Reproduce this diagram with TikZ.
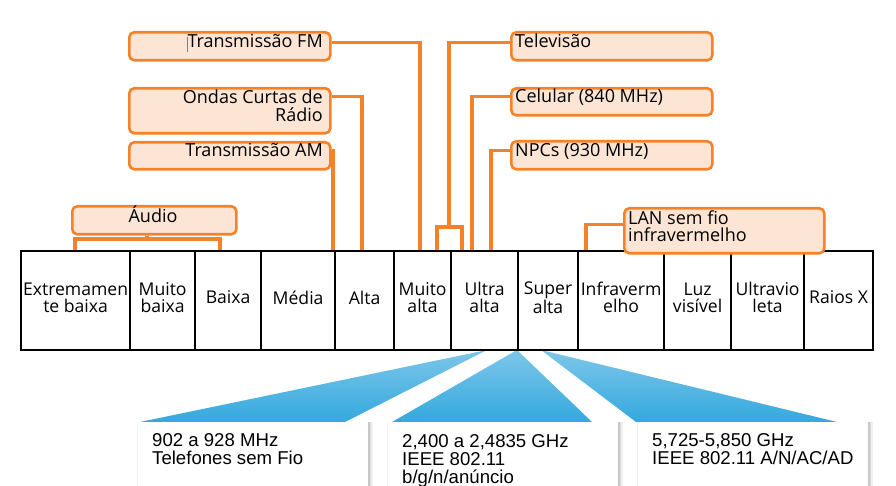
\documentclass[tikz,border=0pt]{standalone}
\usepackage{fontspec}
\setmainfont{Open Sans}
\newfontfamily\bfnt{Liberation Sans}
\definecolor{org}{RGB}{245,130,40}
\definecolor{peach}{RGB}{252,229,212}
\definecolor{fantop}{RGB}{125,198,233}
\definecolor{fanbot}{RGB}{52,169,222}
\tikzset{
  obox/.style={draw=org, fill=peach, line width=2.6pt, rounded corners=5pt, inner sep=0pt, anchor=north west},
  oline/.style={draw=org, line width=3.4pt},
  cell/.style={draw=black, line width=2.2pt, inner sep=0pt, minimum height=99pt, anchor=north west},
  lbl/.style={inner sep=0pt, font=\fontsize{18}{17.5}\selectfont},
  cellt/.style={inner sep=0pt, align=center, font=\fontsize{17.6}{17.5}\selectfont},
  btxt/.style={inner sep=0pt, align=left, anchor=west, font=\bfnt\fontsize{18.6}{18}\selectfont},
  wbox/.style={fill=white, inner sep=0pt, anchor=north west, minimum width=230pt, minimum height=90pt,
    preaction={fill=black, opacity=.05, transform canvas={xshift=-1pt}},
    preaction={fill=black, opacity=.09, transform canvas={xshift=1.5pt}},
    preaction={fill=black, opacity=.08, transform canvas={xshift=3pt}},
    preaction={fill=black, opacity=.06, transform canvas={xshift=4.5pt}}},
  fan/.style={top color=fantop, bottom color=fanbot}
}
\newcommand\bandcell[4]{%
  \node[cell, minimum width=#3pt] (#1) at (#2,250) {};
  \node[cellt] (#1t) at ([yshift=3pt]#1.center) {#4};}
\begin{document}
\begin{tikzpicture}[x=1pt,y=-1pt]
\useasboundingbox (0,0) rectangle (896,486);
\clip (0,0) rectangle (896,486);
\fill[white] (0,0) rectangle (896,486);

% fans
\coordinate (f1) at (487,350);
\coordinate (f2) at (517,350);
\coordinate (f3) at (541,350);
\shade[fan] (f1) -- (345,422) -- (140,422) -- cycle;
\shade[fan] (f2) -- (592,422) -- (392,422) -- cycle;
\shade[fan] (f3) -- (837,422) -- (636,422) -- cycle;

% bottom boxes
\node[wbox] (b1) at (138,422) {};
\node[wbox] (b2) at (388,422) {};
\node[wbox] (b3) at (638,422) {};
\node[btxt] (b1t) at (152,449.5) {902 a 928 MHz\\Telefones sem Fio};
\node[btxt] (b2t) at (402,460.5) {2,400 a 2,4835 GHz\\IEEE 802.11\\b/g/n/anúncio};
\node[btxt] (b3t) at (652,449.5) {5,725-5,850 GHz\\IEEE 802.11 A/N/AC/AD};

% orange connectors
\coordinate (pam) at (333,250);
\coordinate (pon) at (362,250);
\coordinate (pfm) at (420,250);
\coordinate (tl) at (437,250);
\coordinate (tr) at (462,250);
\coordinate (tb) at (449,227);
\coordinate (pce) at (472,250);
\coordinate (pnp) at (491,250);
\coordinate (plan) at (586,250);
\coordinate (al) at (75,250);
\coordinate (ar) at (220,250);
\coordinate (ab) at (147,239);

% orange boxes
\node[obox, minimum width=201pt, minimum height=28pt] (fm) at (128,31) {};
\node[obox, minimum width=201pt, minimum height=45pt] (on) at (128,87) {};
\node[obox, minimum width=201pt, minimum height=27pt] (am) at (128,141) {};
\node[obox, minimum width=164pt, minimum height=28pt] (aud) at (71,205) {};
\node[obox, minimum width=201pt, minimum height=28pt] (tv) at (510,31) {};
\node[obox, minimum width=201pt, minimum height=27pt] (ce) at (510,87) {};
\node[obox, minimum width=201pt, minimum height=28pt] (np) at (510,140) {};

\draw[oline] ([yshift=4pt]fm.east) -| (pfm);
\draw[oline] ([yshift=14.5pt]on.east) -| (pon);
\draw[oline] ([yshift=5.5pt]am.east) -| (pam);
\draw[oline] (ab) -- (ab |- aud.south);
\draw[oline] (al) |- (ab) -| (ar);
\draw[oline] ([yshift=4pt]tv.west) -| (tb);
\draw[oline] (tl) |- (tb) -| (tr);
\draw[oline] ([yshift=5.5pt]ce.west) -| (pce);
\draw[oline] ([yshift=5pt]np.west) -| (pnp);

% band bar
\bandcell{c1}{20}{109}{Extremamen\\te baixa}
\bandcell{c2}{129}{65}{Muito\\baixa}
\bandcell{c3}{194}{66}{Baixa}
\bandcell{c4}{260}{74}{Média}
\bandcell{c5}{334}{59}{Alta}
\bandcell{c6}{393}{57}{Muito\\alta}
\bandcell{c7}{450}{67}{Ultra\\alta}
\bandcell{c8}{517}{60}{Super\\alta}
\bandcell{c9}{577}{86}{Infraverm\\elho}
\bandcell{c10}{663}{67}{Luz\\visível}
\bandcell{c11}{730}{73}{Ultravio\\leta}
\bandcell{c12}{803}{69}{Raios X}

% LAN box (drawn over the bar)
\node[obox, minimum width=200pt, minimum height=45pt] (lan) at (623,207) {};
\draw[oline] ([yshift=6.5pt]lan.west) -| (plan);

% texts of orange boxes
\node[lbl, anchor=base east] (fmt) at (323,48) {\textcolor{gray}{\rule[-3.7pt]{1pt}{15pt}}Transmissão FM};
\node[lbl, anchor=east, align=right] (ont) at (323,106) {Ondas Curtas de\\Rádio};
\node[lbl, anchor=base east] (amt) at (323,157) {Transmissão AM};
\node[lbl, anchor=base] (audt) at (153,223) {Áudio};
\node[lbl, anchor=base west] (tvt) at (515,48) {Televisão};
\node[lbl, anchor=base west] (cet) at (515,103) {Celular (840 MHz)};
\node[lbl, anchor=base west] (npt) at (515,157) {NPCs (930 MHz)};
\node[lbl, anchor=west, align=left] (lant) at (628,226) {LAN sem fio\\infravermelho};
\end{tikzpicture}
\end{document}
